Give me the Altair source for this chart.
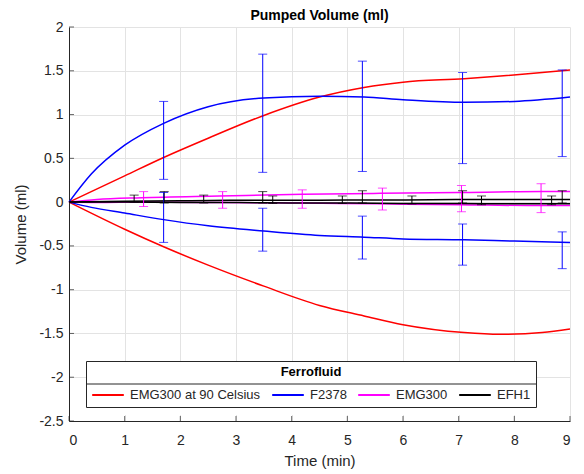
import altair as alt
import pandas as pd

# ---------------- data ----------------
series = ["EMG300 at 90 Celsius", "F2378", "EMG300", "EFH1"]
colors = ["#ff0000", "#0000ff", "#ff00ff", "#000000"]

# curves (each fluid has an upper and a lower curve)
red_x = [0, 1, 1.7, 2.5, 3.5, 4.5, 5.3, 6, 7.1, 7.75, 8.5, 9]
red_upper = [0, 0.30, 0.51, 0.73, 0.99, 1.20, 1.31, 1.37, 1.41, 1.44, 1.48, 1.51]
red_lower = [0, -0.31, -0.51, -0.72, -0.96, -1.18, -1.30, -1.40, -1.49, -1.51, -1.49, -1.45]

blue_x = [0, 0.4, 1, 1.7, 2.5, 3.5, 4.5, 5.3, 6, 7.1, 8, 9]
blue_upper = [0, 0.32, 0.65, 0.90, 1.09, 1.19, 1.21, 1.20, 1.17, 1.14, 1.15, 1.20]
blue_lower = [0, -0.06, -0.125, -0.20, -0.27, -0.33, -0.38, -0.40, -0.42, -0.43, -0.445, -0.46]

mag_x = [0, 0.5, 1.3, 2.7, 4.2, 5.6, 7, 8.5, 9]
mag_upper = [0, 0.03, 0.05, 0.07, 0.09, 0.10, 0.11, 0.12, 0.12]
mag_lower = [0, -0.005, 0, -0.005, -0.01, -0.02, -0.03, -0.04, -0.04]

blk_x = [0, 1, 2, 3, 4, 5, 6, 7, 8, 9]
blk_upper = [0, 0.01, 0.015, 0.02, 0.02, 0.025, 0.025, 0.03, 0.03, 0.03]
blk_lower = [0, 0, -0.005, -0.005, -0.01, -0.01, -0.015, -0.015, -0.02, -0.02]

# error bars
blue_eb_x = [1.7, 3.48, 5.27, 7.07, 8.86]
blue_up_lo = [0.26, 0.34, 0.35, 0.44, 0.52]
blue_up_hi = [1.15, 1.69, 1.61, 1.48, 1.51]
blue_dn_lo = [-0.46, -0.56, -0.65, -0.72, -0.76]
blue_dn_hi = [0.11, -0.07, -0.16, -0.25, -0.34]

mag_eb_x = [1.34, 2.76, 4.19, 5.63, 7.05, 8.48]
mag_eb_lo = [-0.05, -0.07, -0.07, -0.09, -0.11, -0.12]
mag_eb_hi = [0.12, 0.12, 0.14, 0.16, 0.19, 0.21]

blk_a_x = [1.17, 2.42, 3.66, 4.91, 6.16, 7.41, 8.67]
blk_a_lo = [0.0, -0.01, -0.015, -0.015, -0.02, -0.03, -0.03]
blk_a_hi = [0.08, 0.08, 0.07, 0.07, 0.07, 0.07, 0.07]
blk_b_x = [1.71, 3.48, 5.27, 7.07, 8.86]
blk_b_lo = [-0.01, -0.01, -0.01, -0.01, -0.01]
blk_b_hi = [0.12, 0.12, 0.13, 0.13, 0.13]

x_ticks = [0, 1, 2, 3, 4, 5, 6, 7, 8, 9]
y_ticks = [-2.5, -2, -1.5, -1, -0.5, 0, 0.5, 1, 1.5, 2]

# ---------------- tables ----------------
rows = []
for name, xs, ups, lows in [
    (series[0], red_x, red_upper, red_lower),
    (series[1], blue_x, blue_upper, blue_lower),
    (series[2], mag_x, mag_upper, mag_lower),
    (series[3], blk_x, blk_upper, blk_lower),
]:
    for xv, yv in zip(xs, ups):
        rows.append({"fluid": name, "curve": name + " up", "t": xv, "v": yv})
    for xv, yv in zip(xs, lows):
        rows.append({"fluid": name, "curve": name + " low", "t": xv, "v": yv})
lines_df = pd.DataFrame(rows)

eb = []
for name, xs, lo, hi in [
    (series[1], blue_eb_x, blue_up_lo, blue_up_hi),
    (series[1], blue_eb_x, blue_dn_lo, blue_dn_hi),
    (series[2], mag_eb_x, mag_eb_lo, mag_eb_hi),
    (series[3], blk_a_x, blk_a_lo, blk_a_hi),
    (series[3], blk_b_x, blk_b_lo, blk_b_hi),
]:
    for xv, l, h in zip(xs, lo, hi):
        eb.append({"fluid": name, "t": xv, "lo": l, "hi": h})
eb_df = pd.DataFrame(eb)

FONT = "Liberation Sans"
TXT = "#262626"

xscale = alt.Scale(domain=[0, 9], nice=False)
yscale = alt.Scale(domain=[-2.5, 2], nice=False)
cscale = alt.Scale(domain=series, range=colors)

xaxis = alt.Axis(values=x_ticks, title="Time (min)", grid=True, tickSize=0,
                 labelPadding=12, titlePadding=6, labelExpr="toString(datum.value)")
yaxis = alt.Axis(values=y_ticks, title="Volume (ml)", grid=True, tickSize=0,
                 labelPadding=6, titlePadding=10, labelExpr="toString(datum.value)")

# legend background box (white, covers the grid)
box = alt.Chart(pd.DataFrame({"k": [0]})).mark_rect(
    fill="white", stroke=None
).encode(x=alt.value(17), x2=alt.value(467), y=alt.value(334), y2=alt.value(388))

sep = alt.Chart(pd.DataFrame({"k": [0]})).mark_rule(
    color=TXT, strokeWidth=1
).encode(x=alt.value(17), x2=alt.value(467), y=alt.value(357))

# inward tick marks (MATLAB style)
xt = alt.Chart(pd.DataFrame({"t": x_ticks})).mark_tick(
    orient="vertical", size=5, thickness=1, color=TXT
).encode(x=alt.X("t:Q", scale=xscale), y=alt.value(391.5))
yt = alt.Chart(pd.DataFrame({"v": y_ticks})).mark_tick(
    orient="horizontal", size=5, thickness=1, color=TXT
).encode(y=alt.Y("v:Q", scale=yscale), x=alt.value(2.5))

lines = alt.Chart(lines_df).mark_line(strokeWidth=1.5, interpolate="monotone").encode(
    x=alt.X("t:Q", scale=xscale, axis=xaxis),
    y=alt.Y("v:Q", scale=yscale, axis=yaxis),
    color=alt.Color("fluid:N", scale=cscale, sort=series,
                    legend=alt.Legend(
                        title="Ferrofluid", orient="none", direction="horizontal",
                        legendX=17, legendY=334, titleAnchor="middle",
                        symbolType="stroke", symbolSize=1000, symbolStrokeWidth=2,
                        columnPadding=7, labelOffset=5, padding=5,
                        strokeColor=TXT, titlePadding=-1,
                        titleFont=FONT, titleFontSize=13, titleFontWeight="bold",
                        titleColor="black", labelFont=FONT, labelFontSize=13,
                        labelColor=TXT, labelLimit=300)),
    detail="curve:N",
    order="t:Q",
)

rules = alt.Chart(eb_df).mark_rule(strokeWidth=1).encode(
    x="t:Q", y="lo:Q", y2="hi:Q",
    color=alt.Color("fluid:N", scale=cscale, legend=None),
)
caps_lo = alt.Chart(eb_df).mark_tick(orient="horizontal", size=9, thickness=1).encode(
    x="t:Q", y="lo:Q", color=alt.Color("fluid:N", scale=cscale, legend=None),
)
caps_hi = alt.Chart(eb_df).mark_tick(orient="horizontal", size=9, thickness=1).encode(
    x="t:Q", y="hi:Q", color=alt.Color("fluid:N", scale=cscale, legend=None),
)

chart = alt.layer(box, xt, yt, lines, rules, caps_lo, caps_hi, sep).properties(
    width=501, height=394,
    title=alt.TitleParams("Pumped Volume (ml)", font=FONT, fontSize=14,
                          fontWeight="bold", color="black", offset=-3,
                          frame="group", anchor="middle"),
    autosize=alt.AutoSizeParams(type="none"),
    padding={"left": 61, "top": 19, "right": 6, "bottom": 48},
).configure_view(stroke=None).configure_axis(
    labelFont=FONT, labelFontSize=14, labelColor=TXT,
    titleFont=FONT, titleFontSize=15, titleFontWeight="normal", titleColor=TXT,
    gridColor="#e3e3e3", gridWidth=1, domainColor=TXT, domainWidth=1,
).resolve_scale(color="shared")

chart.save("out.html", embed_options={"renderer": "svg", "actions": False})
